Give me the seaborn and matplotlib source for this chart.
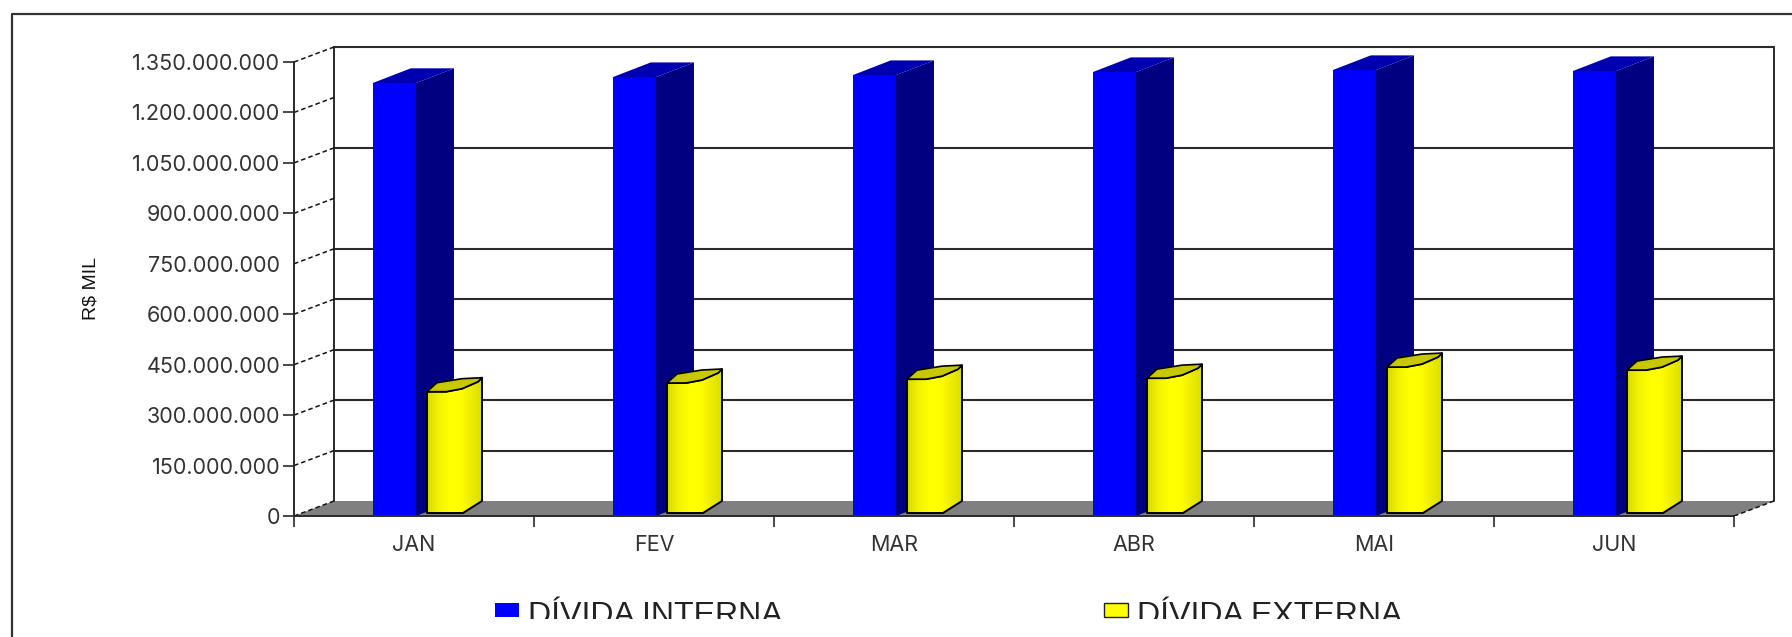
import numpy as np
import pandas as pd
import matplotlib
matplotlib.use('Agg')
import matplotlib.pyplot as plt
from matplotlib.colors import LinearSegmentedColormap
from matplotlib.patches import Polygon, Rectangle
from matplotlib.lines import Line2D
from matplotlib.ticker import FuncFormatter
import seaborn as sns

# dados
meses = ['JAN', 'FEV', 'MAR', 'ABR', 'MAI', 'JUN']
divida_interna = [1287500000, 1305000000, 1311000000, 1320000000, 1326000000, 1323000000]
divida_externa = [360700000, 386600000, 398000000, 401000000, 434000000, 425000000]
y_ticks = [0, 150000000, 300000000, 450000000, 600000000, 750000000,
           900000000, 1050000000, 1200000000, 1350000000]
# linhas que aparecem na parede do fundo (900 e 1.200 somem na imagem)
linhas_fundo = [150000000, 300000000, 450000000, 600000000, 750000000, 1050000000, 1350000000]

W, H = 1792, 637
sns.set_theme(style='white')
plt.rcParams['font.family'] = ['Inter', 'Liberation Sans', 'DejaVu Sans']

df = pd.DataFrame({
    'mes': meses * 2,
    'valor': divida_interna + divida_externa,
    'serie': ['DÍVIDA INTERNA'] * 6 + ['DÍVIDA EXTERNA'] * 6,
})

fig = plt.figure(figsize=(W / 100, H / 100), dpi=100)
ax = fig.add_axes([294 / W, (H - 516) / H, 1482 / W, 471 / H])

# escalas em pixels
px_x = 1 / 240
px_y = 1350000000 / 454
fundo_x = 40 * px_x
fundo_y = 15 * px_y

sns.barplot(data=df, x='mes', y='valor', hue='serie', order=meses,
            palette=['#0000ff', '#ffff00'], saturation=1, width=0.36, gap=0,
            linewidth=0, legend=False, ax=ax, zorder=3)

x_min, x_max = -0.5, -0.5 + 1482 * px_x
y_max = 471 * px_y
ax.set_xlim(x_min, x_max)
ax.set_ylim(0, y_max)
ax.patch.set_alpha(0)

linha = '#2a2a2a'

# chao e paredes
ax.add_patch(Polygon([(-0.5, 0), (5.5, 0), (5.5 + fundo_x, fundo_y), (-0.5 + fundo_x, fundo_y)],
                     fc='#808080', ec='none', zorder=1))
for v in linhas_fundo:
    ax.plot([-0.5 + fundo_x, 5.5 + fundo_x], [v + fundo_y, v + fundo_y],
            color=linha, lw=1.5, zorder=1.5)
for xp in [-0.5 + fundo_x, 5.5 + fundo_x]:
    ax.plot([xp, xp], [fundo_y, 1350000000 + fundo_y], color=linha, lw=1.4, zorder=1.5)
for v in y_ticks:
    ax.plot([-0.5, -0.5 + fundo_x], [v, v + fundo_y], color='#111111', lw=1.1, ls=(0, (3, 2)), zorder=1.5)
ax.plot([5.5, 5.5 + fundo_x], [0, fundo_y], color='#111111', lw=1.1, ls=(0, (3, 2)), zorder=1.5)

# barras azuis: frente vem do seaborn, lateral e topo a partir dela
for p in ax.containers[0]:
    p.set_x(p.get_x() + 2 * px_x)
    xl, xr, v = p.get_x(), p.get_x() + p.get_width(), p.get_height()
    dx, dy = 38 * px_x, 14.7 * px_y
    ax.add_patch(Polygon([(xr, 0), (xr + dx, dy), (xr + dx, v + dy), (xr, v)],
                         fc='#000080', ec='none', zorder=3))
    ax.add_patch(Polygon([(xl, v), (xl + dx, v + dy), (xr + dx, v + dy), (xr, v)],
                         fc='#0000b0', ec='none', zorder=3))

# cilindros amarelos
degrade = LinearSegmentedColormap.from_list(
    'cil', ['#d8d800', '#f2f200', '#ffff00', '#ffff00', '#eeee00', '#dcdc00'])
rampa = np.linspace(0, 1, 64).reshape(1, -1)
for p in ax.containers[1]:
    p.set_x(p.get_x() + 13 * px_x)
    p.set_y(3 * px_y)
    p.set_facecolor('none')
    x0, base = p.get_x(), p.get_y()
    topo = base + p.get_height()

    def pt(dx, ref, dy):
        return (x0 + dx * px_x, ref + dy * px_y)

    corpo = [pt(0, base, 0), pt(0, topo, 0), pt(19, topo, 0), pt(35, topo, 3),
             pt(51, topo, 10), pt(55, topo, 14), pt(55, base, 12), pt(36, base, 0)]
    tampa = [pt(0, topo, 0), pt(10, topo, 9), pt(35, topo, 13), pt(55, topo, 14),
             pt(51, topo, 10), pt(35, topo, 3), pt(19, topo, 0)]
    forma = Polygon(corpo, fc='none', ec='black', lw=1.4, zorder=4.2, joinstyle='round')
    ax.add_patch(forma)
    im = ax.imshow(rampa, cmap=degrade, aspect='auto', zorder=4,
                   extent=(x0, x0 + 55 * px_x, base, topo + 14 * px_y))
    im.set_clip_path(forma)
    ax.add_patch(Polygon(tampa, fc='#c8c800', ec='black', lw=1.2, zorder=4.3))

ax.set_xlim(x_min, x_max)
ax.set_ylim(0, y_max)

# eixos
sns.despine(ax=ax, top=True, right=True)
for lado in ['left', 'bottom']:
    ax.spines[lado].set_color(linha)
    ax.spines[lado].set_linewidth(1.4)
    ax.spines[lado].set_zorder(5)
ax.spines['left'].set_bounds(0, 1350000000)
ax.spines['bottom'].set_bounds(-0.5, 5.5)

ax.set_yticks(y_ticks)
ax.yaxis.set_major_formatter(FuncFormatter(lambda v, pos: f'{int(v):,}'.replace(',', '.')))
ax.tick_params(axis='y', left=True, length=8, width=1.2, color=linha, pad=2,
               labelsize=15.5, labelcolor='#333333')
ax.yaxis.get_major_ticks()[5].tick1line.set_visible(False)

ax.set_xticks(range(6), meses)
ax.set_xticks(np.arange(-0.5, 6), minor=True)
ax.tick_params(axis='x', which='major', bottom=False, length=0, pad=14,
               labelsize=15.5, labelcolor='#333333')
ax.tick_params(axis='x', which='minor', bottom=True, length=8, width=1.2, color=linha)

ax.set_xlabel('')
ax.set_ylabel('R$ MIL', fontsize=14, family='Liberation Sans', color='#111111')
ax.yaxis.set_label_coords(99 / W, (H - 289) / H, transform=fig.transFigure)

# legenda, cortada embaixo como no original
handles = [Rectangle((0, 0), 1, 1, fc='#0000ff', ec='none'),
           Rectangle((0, 0), 1, 1, fc='#ffff00', ec='#222222', lw=1.0)]
leg = ax.legend(handles, ['DÍVIDA INTERNA', 'DÍVIDA EXTERNA'], ncols=2, frameon=False,
                loc='lower left', bbox_to_anchor=(495 / W, (H - 631) / H),
                bbox_transform=fig.transFigure, borderpad=0, borderaxespad=0,
                handlelength=0.75, handleheight=0.44, handletextpad=0.28, columnspacing=10.06,
                prop={'family': 'Liberation Sans', 'size': 23})
for t in leg.get_texts():
    t.set_color('#222222')
for h in leg.legend_handles:
    h.set_y(5)
    h.set_height(10)
fig.add_artist(Rectangle((14 / W, 0), 1, (H - 619) / H, transform=fig.transFigure,
                         fc='white', ec='none', zorder=5))

# moldura externa sem lado direito
fig.add_artist(Line2D([12 / W, 12 / W, 1], [0, (H - 14) / H, (H - 14) / H],
                      color='#333333', lw=1.6, zorder=6))

fig.savefig('out.png', dpi=100, facecolor='white')
